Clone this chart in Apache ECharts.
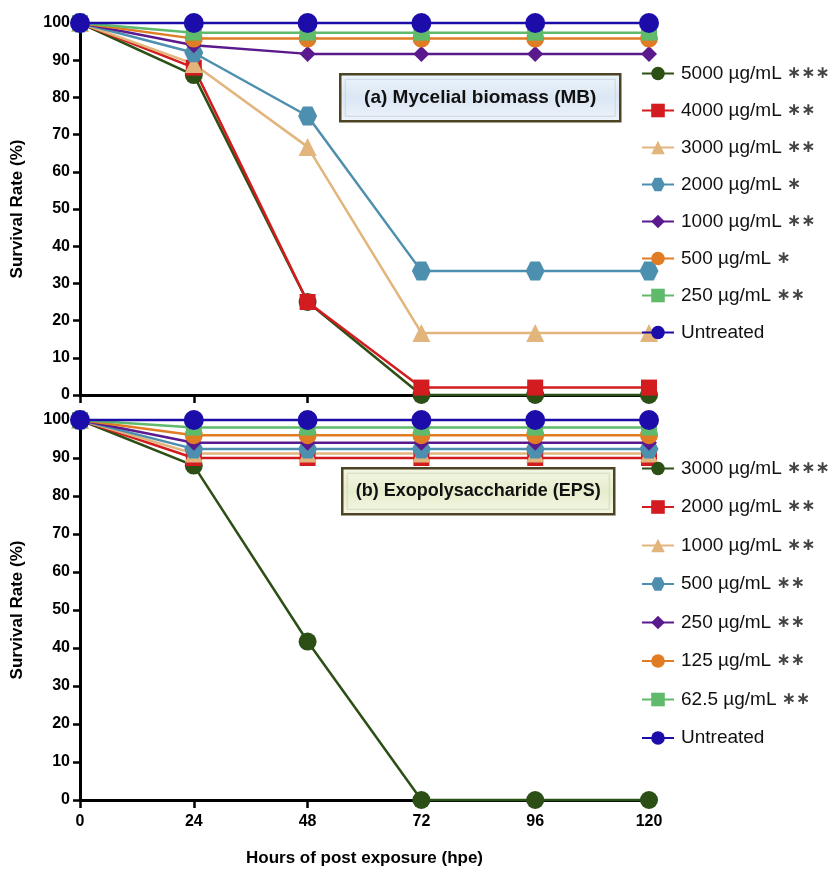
<!DOCTYPE html>
<html>
<head>
<meta charset="utf-8">
<script src="https://cdn.jsdelivr.net/npm/echarts@6/dist/echarts.min.js"></script>
<style>
  html, body { margin: 0; padding: 0; background: #fff; }
  #main { width: 840px; height: 871px; }
</style>
</head>
<body>
<div id="main"></div>
<script>
// hours of post exposure
const hours = [0, 24, 48, 72, 96, 120];

// (a) mycelial biomass
const mbLabels = ['5000 µg/mL', '4000 µg/mL', '3000 µg/mL', '2000 µg/mL', '1000 µg/mL', '500 µg/mL', '250 µg/mL', 'Untreated'];
const mbStars = ['∗∗∗', '∗∗', '∗∗', '∗', '∗∗', '∗', '∗∗', ''];
const mb5000 = [100, 86, 25, 0, 0, 0];
const mb4000 = [100, 88, 25, 2, 2, 2];
const mb3000 = [100, 89, 66.7, 16.7, 16.7, 16.7];
const mb2000 = [100, 92, 75, 33.3, 33.3, 33.3];
const mb1000 = [100, 94, 91.7, 91.7, 91.7, 91.7];
const mb500 = [100, 95.8, 95.8, 95.8, 95.8, 95.8];
const mb250 = [100, 97.4, 97.4, 97.4, 97.4, 97.4];
const mbUntreated = [100, 100, 100, 100, 100, 100];

// (b) exopolysaccharide
const epsLabels = ['3000 µg/mL', '2000 µg/mL', '1000 µg/mL', '500 µg/mL', '250 µg/mL', '125 µg/mL', '62.5 µg/mL', 'Untreated'];
const epsStars = ['∗∗∗', '∗∗', '∗∗', '∗∗', '∗∗', '∗∗', '∗∗', ''];
const eps3000 = [100, 88, 41.7, 0, 0, 0];
const eps2000 = [100, 90, 90, 90, 90, 90];
const eps1000 = [100, 91.2, 91.2, 91.2, 91.2, 91.2];
const eps500 = [100, 92.4, 92.4, 92.4, 92.4, 92.4];
const eps250 = [100, 94, 94, 94, 94, 94];
const eps125 = [100, 96, 96, 96, 96, 96];
const eps62 = [100, 98, 98, 98, 98, 98];
const epsUntreated = [100, 100, 100, 100, 100, 100];

const mbValues = [mb5000, mb4000, mb3000, mb2000, mb1000, mb500, mb250, mbUntreated];
const epsValues = [eps3000, eps2000, eps1000, eps500, eps250, eps125, eps62, epsUntreated];

const colors = ['#2b4f14', '#d21c1f', '#e2b57c', '#4d8fae', '#5a1a8e', '#e07c24', '#5fba6c', '#1c0caa'];
const hexagon = 'path://M-1,0 L-0.5,-0.866 L0.5,-0.866 L1,0 L0.5,0.866 L-0.5,0.866 Z';
const symbols = ['circle', 'rect', 'triangle', hexagon, 'diamond', 'circle', 'rect', 'circle'];
const sizes = [18, 16, 18, 19, 16, 18, 16, 20];

const FONT = 'Liberation Sans, Arial, sans-serif';

var myChart = echarts.init(document.getElementById('main'));

function makeSeries(prefix, labels, values, idx) {
  return labels.map((lab, i) => ({
    name: prefix + lab,
    type: 'line',
    xAxisIndex: idx,
    yAxisIndex: idx,
    clip: false,
    symbol: symbols[i],
    symbolSize: sizes[i],
    color: colors[i],
    lineStyle: { width: 2.5, color: colors[i] },
    itemStyle: { color: colors[i], opacity: 1 },
    emphasis: { disabled: true },
    data: values[i].map((v, j) => [hours[j], v])
  }));
}

function makeLegend(prefix, labels, stars, top, gap) {
  return {
    orient: 'vertical',
    left: 636,
    top: top,
    itemWidth: 32,
    itemHeight: 17,
    itemGap: gap,
    selectedMode: false,
    data: labels.map(l => prefix + l),
    formatter: function (name) {
      const i = labels.indexOf(name.slice(prefix.length));
      return labels[i] + (stars[i] ? ' {s|' + stars[i] + '}' : '');
    },
    textStyle: {
      fontFamily: FONT, fontSize: 19, color: '#111', padding: [0, 0, 0, 2],
      rich: { s: { fontFamily: 'DejaVu Sans, sans-serif', fontSize: 17, fontWeight: 'bold', color: '#444' } }
    }
  };
}

function yAxis(idx) {
  return {
    type: 'value', gridIndex: idx, min: 0, max: 100, interval: 10,
    name: 'Survival Rate (%)', nameLocation: 'middle', nameGap: 54,
    nameTextStyle: { fontFamily: FONT, fontSize: 17, fontWeight: 'bold', color: '#000' },
    axisLine: { show: true, lineStyle: { color: '#000', width: 3 } },
    axisTick: { show: true, length: 7, lineStyle: { color: '#000', width: 2.5 } },
    axisLabel: { fontFamily: FONT, fontSize: 16, fontWeight: 'bold', color: '#000', margin: 10 },
    splitLine: { show: false }
  };
}

function xAxis(idx, showLabels) {
  return {
    type: 'value', gridIndex: idx, min: 0, max: 120, interval: 24,
    name: showLabels ? 'Hours of post exposure (hpe)' : '',
    nameLocation: 'middle', nameGap: 50,
    nameTextStyle: { fontFamily: FONT, fontSize: 17, fontWeight: 'bold', color: '#000' },
    axisLine: { show: true, onZero: false, lineStyle: { color: '#000', width: 3 } },
    axisTick: { show: true, length: 8, lineStyle: { color: '#000', width: 2.5 } },
    axisLabel: { show: showLabels, fontFamily: FONT, fontSize: 16, fontWeight: 'bold', color: '#000', margin: 14 },
    splitLine: { show: false }
  };
}

const option = {
  backgroundColor: '#fff',
  animation: false,
  grid: [
    { left: 80, right: 191, top: 23, height: 372 },
    { left: 80, right: 191, top: 420, height: 380 }
  ],
  xAxis: [xAxis(0, false), xAxis(1, true)],
  yAxis: [yAxis(0), yAxis(1)],
  legend: [
    makeLegend('a ', mbLabels, mbStars, 59, 18),
    makeLegend('b ', epsLabels, epsStars, 454, 19.5)
  ],
  graphic: [
    {
      type: 'group', left: 339, top: 73,
      children: [
        { type: 'rect', shape: { x: 0, y: 0, width: 280, height: 47 },
          style: { fill: new echarts.graphic.LinearGradient(0, 0, 0, 1, [
            { offset: 0, color: '#eef4fb' }, { offset: 0.5, color: '#dbe7f4' }, { offset: 1, color: '#eef4fb' }]),
            stroke: '#4c4424', lineWidth: 2.5 } },
        { type: 'rect', shape: { x: 5, y: 5, width: 270, height: 37 },
          style: { fill: 'transparent', stroke: '#c9d6e4', lineWidth: 1 } },
        { type: 'text', x: 140, y: 24,
          style: { text: '(a) Mycelial biomass (MB)', fontFamily: FONT, fontSize: 19, fontWeight: 'bold',
            fill: '#111', align: 'center', verticalAlign: 'middle' } }
      ]
    },
    {
      type: 'group', left: 341, top: 467,
      children: [
        { type: 'rect', shape: { x: 0, y: 0, width: 272, height: 46 },
          style: { fill: new echarts.graphic.LinearGradient(0, 0, 0, 1, [
            { offset: 0, color: '#f4f7e6' }, { offset: 0.5, color: '#e6edcc' }, { offset: 1, color: '#f4f7e6' }]),
            stroke: '#4c4424', lineWidth: 2.5 } },
        { type: 'rect', shape: { x: 5, y: 5, width: 262, height: 36 },
          style: { fill: 'transparent', stroke: '#d3dbb6', lineWidth: 1 } },
        { type: 'text', x: 136, y: 23,
          style: { text: '(b) Exopolysaccharide (EPS)', fontFamily: FONT, fontSize: 18, fontWeight: 'bold',
            fill: '#111', align: 'center', verticalAlign: 'middle' } }
      ]
    }
  ],
  series: makeSeries('a ', mbLabels, mbValues, 0).concat(makeSeries('b ', epsLabels, epsValues, 1))
};

myChart.setOption(option);

window.addEventListener('resize', function () {
  myChart.resize();
});
</script>
</body>
</html>
